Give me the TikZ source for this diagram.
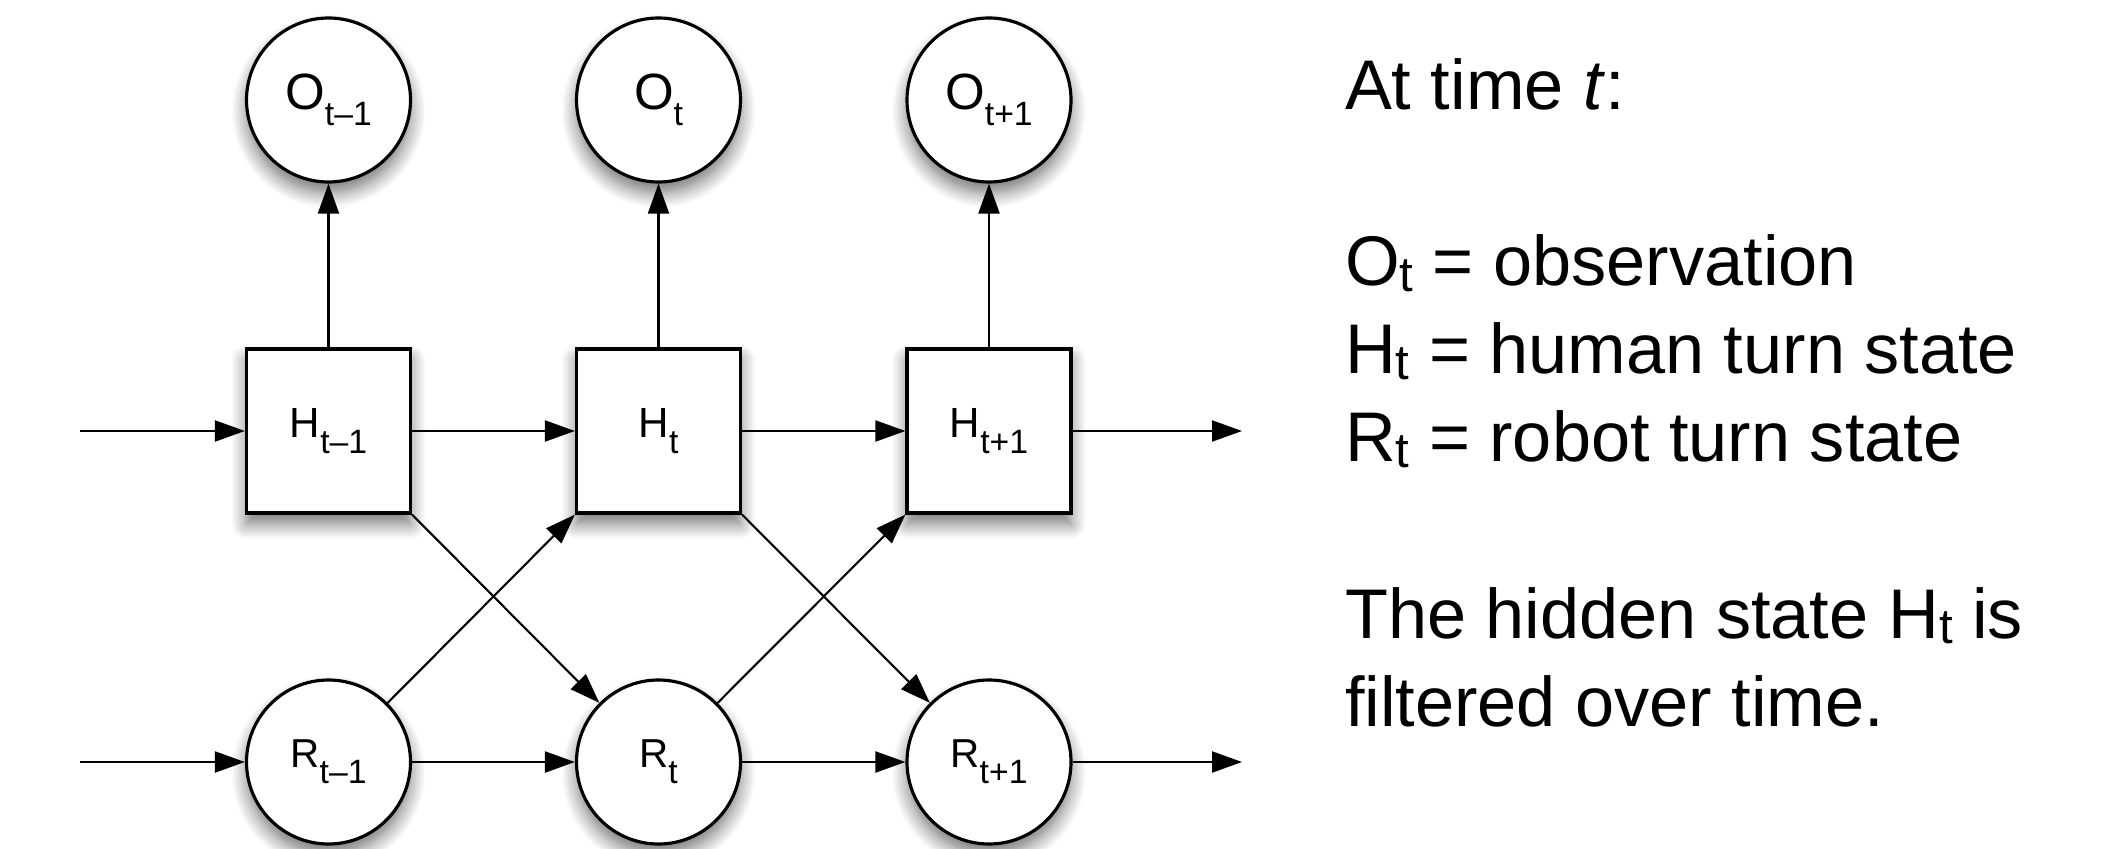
\documentclass[tikz,border=0pt]{standalone}
\usepackage{fontspec}
\setmainfont{Liberation Sans}
\usetikzlibrary{arrows.meta,shadows.blur}
\newcommand{\tsub}[1]{\raisebox{-4.5pt}{\fontsize{9.6}{10}\selectfont #1}}
\newcommand{\lsub}[1]{\raisebox{-1.6pt}{\fontsize{14}{15}\selectfont #1}}
\begin{document}
\begin{tikzpicture}[>={Triangle[length=3mm,width=2.1mm]}, line width=0.6pt,
    shade/.style={blur shadow={shadow xshift=0pt,shadow yshift=-0.11cm,shadow blur radius=0.15cm,shadow blur steps=10,shadow opacity=55}},
    obs/.style={circle,draw,line width=0.9pt,fill=white,minimum size=1.64cm,inner sep=0pt,shade,font=\fontsize{14.5}{16}\selectfont},
    hid/.style={rectangle,draw,line width=0.9pt,fill=white,minimum size=1.64cm,inner sep=0pt,shade,font=\fontsize{12}{14}\selectfont},
    rob/.style={circle,draw,line width=0.9pt,fill=white,minimum size=1.64cm,inner sep=0pt,shade,font=\fontsize{11.5}{13}\selectfont}]
    \useasboundingbox (0,0) rectangle (21.05,8.48);

    % observations
    \node[obs] (O1) at (3.285,7.48) {O\tsub{t–1}};
    \node[obs] (O2) at (6.585,7.48) {O\tsub{t}};
    \node[obs] (O3) at (9.89,7.48) {O\tsub{t+1}};

    % human turn state
    \node[hid] (H1) at (3.285,4.17) {H\tsub{t–1}};
    \node[hid] (H2) at (6.585,4.17) {H\tsub{t}};
    \node[hid] (H3) at (9.89,4.17) {H\tsub{t+1}};

    % robot turn state
    \node[rob] (R1) at (3.285,0.86) {R\tsub{t–1}};
    \node[rob] (R2) at (6.585,0.86) {R\tsub{t}};
    \node[rob] (R3) at (9.89,0.86) {R\tsub{t+1}};

    \coordinate (Hin) at (0.80,4.17);
    \coordinate (Hout) at (12.42,4.17);
    \coordinate (Rin) at (0.80,0.86);
    \coordinate (Rout) at (12.42,0.86);

    \draw[->] (H1) -- (O1);
    \draw[->] (H2) -- (O2);
    \draw[->] (H3) -- (O3);

    \draw[->] (Hin) -- (H1);
    \draw[->] (H1) -- (H2);
    \draw[->] (H2) -- (H3);
    \draw[->] (H3) -- (Hout);

    \draw[->] (Rin) -- (R1);
    \draw[->] (R1) -- (R2);
    \draw[->] (R2) -- (R3);
    \draw[->] (R3) -- (Rout);

    \draw[->] (H1.south east) -- (R2.north west);
    \draw[->] (H2.south east) -- (R3.north west);
    \draw[->] (R1.north east) -- (H2.south west);
    \draw[->] (R2.north east) -- (H3.south west);

    % legend, anchored at the baseline of its last line
    \node[anchor=base west, align=left, inner sep=0pt, font=\fontsize{20}{25.04}\selectfont] (legend) at (13.44,1.22)
        {At time \textit{t}:\\[25.04pt]
         O\lsub{t} = observation\\
         H\lsub{t} = human turn state\\
         R\lsub{t} = robot turn state\\[25.04pt]
         The hidden state H\lsub{t} is\\
         filtered over time.};
\end{tikzpicture}
\end{document}
